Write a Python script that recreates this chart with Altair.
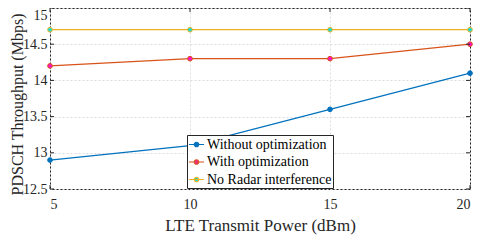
import altair as alt
import pandas as pd

x_power = [5, 10, 15, 20]
without_opt = [12.9, 13.1, 13.6, 14.1]
with_opt = [14.2, 14.3, 14.3, 14.5]
no_radar = [14.7, 14.7, 14.7, 14.7]
series_names = ["Without optimization", "With optimization", "No Radar interference"]
line_colors = ["#0072BD", "#D95319", "#EDB120"]
marker_fills = ["#0072BD", "#FF10C8", "#10E0D8"]
x_ticks = [5, 10, 15, 20]
y_ticks = [12.5, 13, 13.5, 14, 14.5, 15]

rows = []
for name, vals in zip(series_names, [without_opt, with_opt, no_radar]):
    for xv, yv in zip(x_power, vals):
        rows.append({"power": xv, "thr": yv, "series": name})
df = pd.DataFrame(rows)
xt = pd.DataFrame({"v": x_ticks})
yt = pd.DataFrame({"v": y_ticks})

W, H = 420, 181
FONT = "Liberation Serif, Times New Roman, serif"

xscale = alt.Scale(domain=[5, 20], nice=False, zero=False)
yscale = alt.Scale(domain=[12.5, 15], nice=False, zero=False)
stroke_scale = alt.Scale(domain=series_names, range=line_colors)
fill_scale = alt.Scale(domain=series_names, range=marker_fills)

xaxis = alt.Axis(values=x_ticks, title="LTE Transmit Power (dBm)",
                 labelPadding=8, titlePadding=6, format="~g")
yaxis = alt.Axis(values=y_ticks, title="PDSCH Throughput (Mbps)",
                 labelPadding=3, format="~g",
                 titleAngle=270, titleBaseline="alphabetic", titleAlign="center",
                 titleX=-27.5, titleY=96, titleFontSize=16,
                 labelBaseline=alt.ExprRef("datum.value == 15 ? 'top' : 'middle'"))

legend = alt.Legend(title=None, orient="none", legendX=137, legendY=127,
                    symbolType="M -1 0 L 1 0 M -0.3 0 A 0.3 0.3 0 1 0 0.3 0 A 0.3 0.3 0 1 0 -0.3 0",
                    symbolSize=225, symbolStrokeWidth=1.2, labelFontSize=14,
                    labelColor="#000000", padding=1, rowPadding=1.5, labelOffset=2,
                    strokeColor="#262626", fillColor="#ffffff", labelLimit=300)

base = alt.Chart(df)
lines = base.mark_line(strokeWidth=1.2).encode(
    x=alt.X("power:Q", scale=xscale, axis=xaxis),
    y=alt.Y("thr:Q", scale=yscale, axis=yaxis),
    stroke=alt.Stroke("series:N", scale=stroke_scale, legend=legend),
    detail="series:N",
)
points = base.mark_point(filled=True, size=22, strokeWidth=1, opacity=1).encode(
    x=alt.X("power:Q", scale=xscale, axis=xaxis),
    y=alt.Y("thr:Q", scale=yscale, axis=yaxis),
    fill=alt.Fill("series:N", scale=fill_scale, legend=legend),
    stroke=alt.Stroke("series:N", scale=stroke_scale, legend=legend),
)

tick_col = "#262626"
xt_bot = alt.Chart(xt).mark_rule(color=tick_col, strokeWidth=1).encode(
    x=alt.X("v:Q", scale=xscale, axis=xaxis), y=alt.value(H), y2=alt.value(H - 4))
xt_top = alt.Chart(xt).mark_rule(color=tick_col, strokeWidth=1).encode(
    x=alt.X("v:Q", scale=xscale, axis=xaxis), y=alt.value(0), y2=alt.value(4))
yt_left = alt.Chart(yt).mark_rule(color=tick_col, strokeWidth=1).encode(
    y=alt.Y("v:Q", scale=yscale, axis=yaxis), x=alt.value(0), x2=alt.value(4))
yt_right = alt.Chart(yt).mark_rule(color=tick_col, strokeWidth=1).encode(
    y=alt.Y("v:Q", scale=yscale, axis=yaxis), x=alt.value(W), x2=alt.value(W - 4))

chart = alt.layer(lines, points, xt_bot, xt_top, yt_left, yt_right).properties(
    width=W, height=H,
    background="white",
    autosize=alt.AutoSizeParams(type="none"),
    padding={"left": 42, "top": 0, "right": 10, "bottom": 48},
).configure(font=FONT).configure_view(stroke="#262626", strokeWidth=1).configure_axis(
    labelFont=FONT, titleFont=FONT, labelFontSize=14, titleFontSize=17,
    labelColor="#262626", titleColor="#262626", titleFontWeight="normal",
    ticks=False, domain=False, grid=True, gridDash=[2, 2], gridColor="#dcdcdc",
    labelOverlap=False,
).configure_legend(labelFont=FONT)

chart.save("out.html", embed_options={"renderer": "svg", "actions": False})
